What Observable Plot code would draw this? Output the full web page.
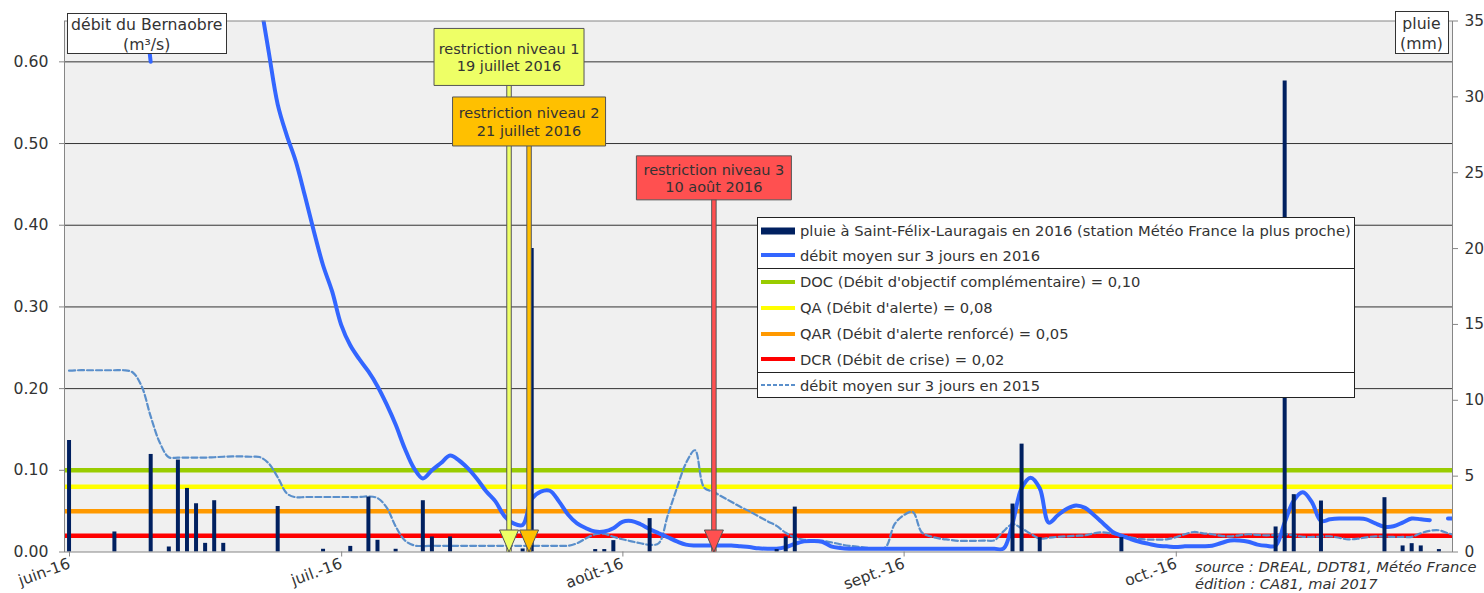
<!DOCTYPE html>
<html>
<head>
<meta charset="utf-8">
<script src="https://cdn.jsdelivr.net/npm/d3@7"></script>
<script src="https://cdn.jsdelivr.net/npm/@observablehq/plot@0.6"></script>
<style>
  html, body { margin: 0; padding: 0; background: #fff; }
  #wrap { position: relative; width: 1484px; height: 593px; overflow: hidden; font-family: "DejaVu Sans", sans-serif; color: #333; }
  #wrap svg { position: absolute; left: 0; top: 0; }
  .ovl { position: absolute; box-sizing: border-box; }
  .titlebox { background: #fff; border: 1px solid #333; text-align: center; font-size: 15.7px; line-height: 20px; color: #333; }
  #legend { background: #fff; border: 1px solid #222; font-size: 14.7px; color: #333; }
  #legend .row { display: flex; align-items: center; white-space: nowrap; }
  #legend .row svg { position: static; margin-left: 3px; margin-right: 5px; flex: none; }
  #legend .sep { border-top: 1px solid #222; }
  #source { font-style: italic; font-size: 14.7px; line-height: 17px; color: #333; white-space: nowrap; }
</style>
</head>
<body>
<div id="wrap"></div>
<script>
// ---------------- DATA ----------------
const startDate = "2016-06-01";

// Rain at Saint-Félix-Lauragais 2016 (mm)
const rainDates = ["2016-06-01","2016-06-06","2016-06-10","2016-06-12","2016-06-13","2016-06-14","2016-06-15","2016-06-16","2016-06-17","2016-06-18",
  "2016-06-24","2016-06-29","2016-07-02","2016-07-04","2016-07-05","2016-07-07","2016-07-10","2016-07-11","2016-07-13","2016-07-21",
  "2016-07-22","2016-07-29","2016-07-30","2016-07-31","2016-08-04","2016-08-18","2016-08-19","2016-08-20","2016-09-13","2016-09-14",
  "2016-09-16","2016-09-25","2016-10-12","2016-10-13","2016-10-14","2016-10-17","2016-10-24","2016-10-26","2016-10-27","2016-10-28","2016-10-30"];
const rainMm = [7.35,1.32,6.43,0.33,6.06,4.19,3.18,0.57,3.38,0.57,
  3.0,0.18,0.37,3.62,0.77,0.18,3.38,0.99,0.99,0.2,
  20.0,0.16,0.16,0.75,2.2,0.16,0.99,2.96,3.16,7.11,
  0.95,0.95,1.65,31.05,3.78,3.36,3.58,0.4,0.55,0.4,0.16];

// 3-day mean flow 2016 (m3/s), one value per day from 1 June to 1 November
const flow2016 = [
  null,null,null,null,null,null,null,null,0.70,0.60,
  null,null,null,null,null,null,null,null,null,null,
  null,0.68,0.613,0.548,0.510,0.478,0.436,0.392,0.351,0.319,
  0.278,0.253,0.236,0.221,0.203,0.181,0.156,0.127,0.103,0.090,
  0.100,0.109,0.118,0.112,0.102,0.089,0.074,0.062,0.044,0.035,
  0.033,0.065,0.074,0.075,0.062,0.046,0.035,0.029,0.025,0.025,
  0.029,0.037,0.038,0.034,0.028,0.023,0.018,0.013,0.009,0.008,
  0.008,0.008,0.008,0.008,0.007,0.006,0.0045,0.004,0.004,0.006,
  0.010,0.013,0.0135,0.0125,0.007,0.005,0.004,0.004,0.004,0.004,
  0.004,0.004,0.004,0.004,0.004,0.004,0.004,0.004,0.004,0.004,
  0.004,0.004,0.004,0.004,0.035,0.078,0.091,0.078,0.036,0.045,
  0.053,0.057,0.054,0.045,0.035,0.025,0.020,0.016,0.0125,0.010,
  0.0076,0.007,0.006,0.007,0.007,0.007,0.0076,0.011,0.014,0.014,
  0.0125,0.009,0.0076,0.0076,0.036,0.063,0.073,0.061,0.038,0.040,
  0.041,0.041,0.041,0.040,0.035,0.031,0.0315,0.036,0.041,0.040,
  0.039,null,0.041,0.041
];

// 3-day mean flow 2015 (m3/s)
const flow2015 = [
  0.222,0.2225,0.2225,0.2225,0.2225,0.2225,0.2225,0.220,0.203,0.166,
  0.134,0.116,0.1156,0.1156,0.1156,0.1156,0.116,0.1166,0.117,0.117,
  0.1166,0.1163,0.1086,0.0915,0.0719,0.067,0.0673,0.0673,0.0673,0.0673,
  0.0673,0.0673,0.0673,0.068,0.066,0.0547,0.0315,0.0143,0.0082,0.0073,
  0.0076,0.0076,0.0076,0.0076,0.0076,0.0076,0.0076,0.0076,0.0076,0.0076,
  0.0076,0.0076,0.0076,0.0076,0.0076,0.0076,0.0107,0.0168,0.0217,0.0223,
  0.0186,0.0156,0.013,0.0107,0.0088,0.0107,0.045,0.078,0.1086,0.1245,
  0.079,0.0737,0.0676,0.0615,0.0553,0.0498,0.0437,0.0376,0.032,0.0235,
  0.018,0.015,0.0143,0.0137,0.0119,0.0094,0.0076,0.0064,0.0051,0.0045,
  0.0058,0.034,0.045,0.049,0.024,0.019,0.0164,0.015,0.0137,0.0135,
  0.0137,0.014,0.0143,0.0253,0.034,0.029,0.0223,0.0164,0.0174,0.0186,
  0.0192,0.0198,0.0204,0.0229,0.0241,0.0223,0.0204,0.018,0.016,0.0152,
  0.0152,0.0155,0.018,0.0217,0.0245,0.0229,0.0217,0.0198,0.0192,0.0204,
  0.0217,0.021,0.0204,0.021,0.0217,0.0204,0.0186,0.0184,0.0189,0.0192,
  0.0174,0.0155,0.0162,0.018,0.0192,0.0189,0.0184,0.0184,0.0186,0.0229,
  0.026,0.0266,0.0229,0.020
];

// Regulatory thresholds
const thresholdNames = ["DOC (Débit d'objectif complémentaire) = 0,10", "QA (Débit d'alerte) = 0,08",
  "QAR (Débit d'alerte renforcé) = 0,05", "DCR (Débit de crise) = 0,02"];
const thresholdValues = [0.10, 0.08, 0.05, 0.02];

// Restrictions
const restrictionLevels = ["restriction niveau 1", "restriction niveau 2", "restriction niveau 3"];
const restrictionDates = ["2016-07-19", "2016-07-21", "2016-08-10"];
const restrictionDateLabels = ["19 juillet 2016", "21 juillet 2016", "10 août 2016"];

// Axes
const monthTicks = ["2016-06-01", "2016-07-01", "2016-08-01", "2016-09-01", "2016-10-01"];
const monthLabels = ["juin-16", "juil.-16", "août-16", "sept.-16", "oct.-16"];
const flowTicks = [0, 0.1, 0.2, 0.3, 0.4, 0.5, 0.6];
const rainTicks = [0, 5, 10, 15, 20, 25, 30, 35];

const legendLabels = ["pluie à Saint-Félix-Lauragais en 2016 (station Météo France la plus proche)",
  "débit moyen sur 3 jours en 2016", ...thresholdNames, "débit moyen sur 3 jours en 2015"];

// ---------------- STYLE / LAYOUT ----------------
const thresholdColors = ["#99CC00", "#FFFF00", "#FF9900", "#FF0000"];
const restrictionColors = ["#EEFF66", "#FFC000", "#FF5050"];
const arrowOffsetHours = [24, 29, 38];      // arrow placement within the day
const boxCenterY = [0.606, 0.527, 0.458];   // label box vertical centre (in flow units)
const boxSize = [[150, 57], [153, 49], [155, 44]];
const c2016 = "#3366FF", c2015 = "#5A8FCB", cRain = "#002060";
const yMax = 0.65, rainMax = 35, k = yMax / rainMax;

// ---------------- BUILD ----------------
const parse = d3.utcParse("%Y-%m-%d");
const t0 = parse(startDate);
const dayCenter = i => d3.utcHour.offset(d3.utcDay.offset(t0, i), 12);

const s2016 = flow2016.map((v, i) => ({date: dayCenter(i), v}));
const s2015 = flow2015.map((v, i) => ({date: dayCenter(i), v}));
const rain = rainDates.map((d, i) => ({date: d3.utcHour.offset(parse(d), 12), mm: rainMm[i]}));
const restr = restrictionLevels.map((l, i) => ({
  label: l + "\n" + restrictionDateLabels[i],
  x: d3.utcHour.offset(parse(restrictionDates[i]), arrowOffsetHours[i]),
  y: boxCenterY[i], fill: restrictionColors[i], size: boxSize[i]
}));

const arrowHead = {draw(ctx) { ctx.moveTo(0, 0); ctx.lineTo(-9.5, -22); ctx.lineTo(9.5, -22); ctx.closePath(); }};
const boxSym = (w, h) => ({draw(ctx) { ctx.rect(-w / 2, -h / 2, w, h); }});

const monthDates = monthTicks.map(parse);
const chart = Plot.plot({
  width: 1484, height: 593,
  marginLeft: 64, marginRight: 32, marginTop: 20.5, marginBottom: 41.5,
  x: {type: "utc", domain: [t0, parse("2016-11-01")]},
  y: {domain: [0, yMax]},
  style: {fontFamily: "DejaVu Sans", background: "transparent", overflow: "visible"},
  marks: [
    Plot.frame({fill: "#F0F0F0", stroke: null}),
    Plot.ruleY(flowTicks.slice(1), {stroke: "#333", strokeWidth: 1}),
    ...thresholdValues.map((v, i) => Plot.ruleY([v], {stroke: thresholdColors[i], strokeWidth: 4.5})),
    Plot.line(s2015, {x: "date", y: "v", stroke: c2015, strokeWidth: 2.2, strokeDasharray: "6,3", curve: "catmull-rom", clip: true}),
    Plot.line(s2016, {x: "date", y: "v", stroke: c2016, strokeWidth: 4, curve: "catmull-rom", clip: true}),
    Plot.ruleX(rain, {x: "date", y1: 0, y2: d => d.mm * k, stroke: cRain, strokeWidth: 4}),
    Plot.frame({stroke: "#868686"}),
    // arrows
    Plot.ruleX(restr, {x: "x", y1: 0, y2: "y", stroke: "#555", strokeWidth: 5.5}),
    Plot.ruleX(restr, {x: "x", y1: 0, y2: "y", stroke: "fill", strokeWidth: 3.5}),
    Plot.dot(restr, {x: "x", y: () => 0, symbol: arrowHead, fill: "fill", stroke: "#555", strokeWidth: 1}),
    ...restr.map(r => Plot.dot([r], {x: "x", y: "y", symbol: boxSym(r.size[0], r.size[1]), fill: "fill", stroke: "#555", strokeWidth: 1})),
    Plot.text(restr, {x: "x", y: "y", text: "label", fontSize: 14.5, lineHeight: 1.2, fill: "#333"}),
    // axes
    Plot.axisY(flowTicks, {anchor: "left", tickFormat: d3.format(".2f"), tickSize: 5, tickPadding: 11, fontSize: 15.7, stroke: "#868686", fill: "#333"}),
    Plot.axisY(rainTicks.map(m => m * k), {anchor: "right", tickFormat: d => String(Math.round(d / k)), tickSize: 5, tickPadding: 7, fontSize: 15.4, stroke: "#868686", fill: "#333"}),
    Plot.axisX(monthDates, {tickFormat: d => monthLabels[monthDates.findIndex(m => +m === +d)], tickRotate: -20, tickSize: 5, tickPadding: 6, dx: 5, fontSize: 15.5, stroke: "#868686", fill: "#333"})
  ]
});

const wrap = document.getElementById("wrap");
wrap.appendChild(chart);

function el(tag, cls, style, html) {
  const e = document.createElement(tag);
  if (cls) e.className = cls;
  Object.assign(e.style, style);
  if (html != null) e.innerHTML = html;
  return e;
}
// axis titles
wrap.appendChild(el("div", "ovl titlebox", {left: "66.5px", top: "12.5px", width: "160.5px", height: "41.5px", paddingTop: "1px"}, "débit du Bernaobre<br>(m³/s)"));
wrap.appendChild(el("div", "ovl titlebox", {left: "1394.5px", top: "11px", width: "54px", height: "43px", paddingTop: "2px"}, "pluie<br>(mm)"));

// legend
const legend = el("div", "ovl", {left: "757px", top: "217px", width: "598px"});
legend.id = "legend";
function swatch(kind, color) {
  const svg = d3.create("svg").attr("width", 34).attr("height", 10);
  if (kind === "bar") svg.append("rect").attr("x", 0).attr("y", 1.5).attr("width", 34).attr("height", 7).attr("fill", color);
  else if (kind === "dash") svg.append("line").attr("x1", 0).attr("x2", 34).attr("y1", 5).attr("y2", 5).attr("stroke", color).attr("stroke-width", 2).attr("stroke-dasharray", "4,2");
  else svg.append("line").attr("x1", 0).attr("x2", 34).attr("y1", 5).attr("y2", 5).attr("stroke", color).attr("stroke-width", 4).attr("stroke-linecap", "round");
  return svg.node();
}
const legendItems = [
  {kind: "bar", color: cRain, h: 25},
  {kind: "line", color: c2016, h: 24.5, sepAfter: true},
  {kind: "line", color: thresholdColors[0], h: 26},
  {kind: "line", color: thresholdColors[1], h: 26},
  {kind: "line", color: thresholdColors[2], h: 26},
  {kind: "line", color: thresholdColors[3], h: 25.5, sepAfter: true},
  {kind: "dash", color: c2015, h: 24}
];
legendItems.forEach((it, i) => {
  const row = el("div", "row", {height: it.h + "px"});
  row.appendChild(swatch(it.kind, it.color));
  row.appendChild(el("span", null, {}, legendLabels[i]));
  legend.appendChild(row);
  if (it.sepAfter) legend.appendChild(el("div", "sep", {}));
});
wrap.appendChild(legend);

// source
const src = el("div", "ovl", {left: "1195px", top: "558px"}, "source : DREAL, DDT81, Météo France<br>édition : CA81, mai 2017");
src.id = "source";
wrap.appendChild(src);
</script>
</body>
</html>
